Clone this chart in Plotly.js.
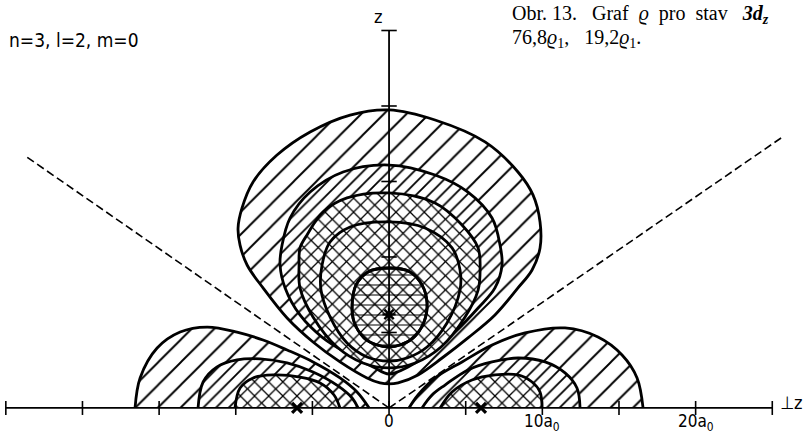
<!DOCTYPE html>
<html>
<head>
<meta charset="utf-8">
<script src="https://cdn.plot.ly/plotly-3.0.1.min.js"></script>
<style>
  html, body { margin: 0; padding: 0; background: #fff; }
  #chart { width: 806px; height: 435px; }
</style>
</head>
<body>
<div id="chart"></div>
<script>
// Density contours of the 3d_z2 state in the (x, z) half-plane, units of a0.

// Upper lobe (along z), outer to inner
const c1X = [0, 3.00, 6.26, 8.41, 9.39, 9.85, 9.85, 9.33, 8.41, 6.91, 5.15, 3.46, 1.89, 0.59, 0, -0.59, -1.44, -3.20, -4.96, -6.65, -8.22, -9.26, -9.72, -9.85, -9.59, -8.87, -7.31, -5.15, -2.54, 0];
const c1Z = [19.74, 19.07, 17.62, 15.63, 14.11, 12.32, 10.60, 9.14, 7.95, 6.16, 4.64, 3.31, 2.19, 1.66, 1.59, 1.66, 1.99, 3.05, 4.37, 5.96, 7.95, 9.47, 10.79, 11.92, 13.25, 14.97, 16.75, 18.28, 19.40, 19.74];

const c2X = [0, 3.00, 5.15, 6.72, 7.24, 7.37, 6.91, 5.81, 4.31, 2.80, 1.24, 0, -1.04, -2.54, -4.31, -5.81, -6.78, -7.11, -6.98, -6.46, -5.15, -3.00, 0];
const c2Z = [16.09, 15.43, 14.30, 12.58, 10.79, 9.47, 7.95, 6.62, 5.03, 3.71, 2.72, 2.25, 2.72, 3.51, 4.64, 6.16, 7.95, 9.47, 10.79, 12.58, 14.30, 15.63, 16.09];

const c3X = [0, 3.00, 4.76, 5.81, 5.94, 5.81, 4.96, 3.39, 1.70, 0, -1.70, -3.39, -4.96, -5.81, -5.87, -5.81, -5.35, -4.31, -2.74, 0];
const c3Z = [14.24, 13.58, 12.12, 10.60, 9.14, 7.81, 6.03, 4.04, 2.98, 2.65, 2.98, 4.04, 6.03, 7.95, 9.47, 10.60, 11.46, 12.98, 13.91, 14.24];

const c4X = [0, 2.35, 4.11, 4.63, 4.63, 3.78, 2.48, 1.17, 0, -1.44, -2.74, -3.85, -4.44, -4.37, -3.85, -2.54, 0];
const c4Z = [12.32, 11.92, 10.60, 9.14, 7.81, 5.63, 4.04, 3.31, 3.11, 3.38, 4.30, 6.03, 7.81, 9.47, 10.99, 11.99, 12.32];

const c5X = [0, 1.37, 2.15, 2.48, 2.28, 1.57, 0.72, 0, -0.78, -1.63, -2.28, -2.41, -2.15, -1.37, 0];
const c5Z = [9.27, 9.01, 8.15, 6.95, 5.70, 4.64, 4.17, 4.04, 4.17, 4.64, 5.70, 6.82, 8.15, 9.01, 9.27];

// Equatorial ring cross-sections, right and left, outer to inner
const e1RX = [1.30, 1.89, 3.00, 4.76, 6.72, 8.87, 11.48, 13.63, 15.20, 16.18, 16.57];
const e1RZ = [0, 0.86, 1.99, 3.05, 4.17, 4.97, 5.30, 4.70, 3.51, 1.99, 0];
const e1LX = [-16.57, -16.24, -15.13, -13.63, -11.87, -9.92, -8.22, -6.65, -4.96, -3.20, -2.09, -1.30];
const e1LZ = [0, 1.99, 3.97, 5.03, 5.36, 5.03, 4.50, 3.84, 3.05, 1.99, 1.06, 0];

const e2RX = [2.15, 2.80, 3.65, 5.15, 6.72, 8.41, 10.18, 11.48, 12.26, 12.46];
const e2RZ = [0, 0.86, 1.52, 2.52, 3.05, 3.31, 3.05, 2.32, 1.32, 0];
const e2LX = [-12.46, -12.13, -11.22, -9.92, -8.41, -6.65, -4.96, -3.33, -2.41, -2.02];
const e2LZ = [0, 1.72, 2.72, 3.18, 3.25, 2.98, 2.38, 1.46, 0.66, 0];

const e3RX = [3.33, 4.11, 5.41, 6.91, 8.41, 9.33, 9.85, 9.98];
const e3RZ = [0, 1.06, 1.85, 2.19, 2.19, 1.72, 1.06, 0];
const e3LX = [-10.05, -9.72, -8.87, -7.57, -5.81, -4.50, -3.59, -3.20];
const e3LZ = [0, 1.32, 1.99, 2.19, 2.05, 1.66, 0.86, 0];

// Nodal cones (dashed)
const coneLX = [-23.6, 0];
const coneLZ = [16.6, 0];
const coneRX = [0, 25.6];
const coneRZ = [0, 17.9];

// Axes and ticks
const axisX = [-25, 25];
const tickX = [-25, -20, -15, -10, -5, 0, 5, 10, 15, 20, 25];
const axisZ = [0, 25];
const tickZ = [5, 10, 15, 20, 25];
const tickLabelX = [0, 10, 20];
const tickLabelText = ['0', '10a<sub>0</sub>', '20a<sub>0</sub>'];

// Maxima of the density
const maxRingX = [-6.0, 6.0];
const maxRingZ = [0, 0];
const maxAxisX = [0];
const maxAxisZ = [6.2];

const INK = '#000';

function region(xs, zs, shape, size, solidity) {
  return {
    type: 'scatter', mode: 'lines', x: xs, y: zs,
    fill: 'toself',
    line: { color: INK, width: 2.8, shape: 'spline', smoothing: 1 },
    fillcolor: '#fff',
    fillpattern: { shape: shape, size: size, solidity: solidity, fgcolor: INK, bgcolor: '#fff', fillmode: 'replace' },
    hoverinfo: 'skip'
  };
}

const SPARSE = ['/', 16, 0.12];
const DENSE = ['/', 9, 0.2];
const CROSS = ['x', 10, 0.24];

const traces = [
  region(c1X, c1Z, ...SPARSE),
  region(c2X, c2Z, ...DENSE),
  region(c3X, c3Z, ...CROSS),
  region(c4X, c4Z, ...CROSS),
  region(c5X, c5Z, ...CROSS),
  {
    type: 'scatter', mode: 'lines', x: c5X, y: c5Z, fill: 'toself',
    line: { color: INK, width: 2.8, shape: 'spline', smoothing: 1 },
    fillcolor: 'rgba(0,0,0,0)',
    fillpattern: { shape: '-', size: 10, solidity: 0.2, fgcolor: INK, fillmode: 'overlay' },
    hoverinfo: 'skip'
  },
  region(e1RX, e1RZ, ...SPARSE),
  region(e1LX, e1LZ, ...SPARSE),
  region(e2RX, e2RZ, ...DENSE),
  region(e2LX, e2LZ, ...DENSE),
  region(e3RX, e3RZ, ...CROSS),
  region(e3LX, e3LZ, ...CROSS),
  { type: 'scatter', mode: 'lines', x: coneLX, y: coneLZ, line: { color: INK, width: 1.6, dash: '8px,4px' }, hoverinfo: 'skip' },
  { type: 'scatter', mode: 'lines', x: coneRX, y: coneRZ, line: { color: INK, width: 1.6, dash: '8px,4px' }, hoverinfo: 'skip' },
  { type: 'scatter', mode: 'lines', x: axisX, y: [0, 0], line: { color: INK, width: 1.8 }, hoverinfo: 'skip' },
  { type: 'scatter', mode: 'lines', x: [0, 0], y: axisZ, line: { color: INK, width: 1.8 }, hoverinfo: 'skip' },
  { type: 'scatter', mode: 'markers', x: tickX, y: tickX.map(() => 0),
    marker: { symbol: 'line-ns', size: 10, line: { color: INK, width: 1.6 } }, hoverinfo: 'skip' },
  { type: 'scatter', mode: 'markers', x: tickZ.map(() => 0), y: tickZ,
    marker: { symbol: 'line-ew', size: 11, line: { color: INK, width: 1.6 } }, hoverinfo: 'skip' },
  { type: 'scatter', mode: 'markers', x: maxRingX, y: maxRingZ,
    marker: { symbol: 'x-thin', size: 10, line: { color: INK, width: 3.2 } }, hoverinfo: 'skip' },
  { type: 'scatter', mode: 'markers', x: maxAxisX, y: maxAxisZ,
    marker: { symbol: 'asterisk', size: 11, line: { color: INK, width: 2.4 } }, hoverinfo: 'skip' }
];

const labelFont = { family: 'DejaVu Sans Condensed, DejaVu Sans', size: 17, color: INK };
const captionFont = { family: 'Liberation Serif, Times New Roman, serif', size: 20, color: INK };

const annotations = tickLabelX.map((v, i) => ({
  x: v, y: 0, xref: 'x', yref: 'y', text: tickLabelText[i], showarrow: false,
  xanchor: 'center', yanchor: 'top', yshift: -1, font: labelFont
}));
annotations.push(
  { x: 0, y: 25, xref: 'x', yref: 'y', text: 'z', showarrow: false, xanchor: 'right', yanchor: 'bottom', xshift: -4, yshift: 2, font: { family: 'DejaVu Sans Condensed, DejaVu Sans', size: 18, color: INK } },
  { x: 25, y: 0, xref: 'x', yref: 'y', text: '⊥z', showarrow: false, xanchor: 'left', yanchor: 'middle', xshift: 6, yshift: 5, font: { family: 'DejaVu Sans Condensed, DejaVu Sans', size: 18, color: INK } },
  { x: 7 / 806, y: 1 - 40 / 435, xref: 'paper', yref: 'paper', text: 'n=3, l=2, m=0', showarrow: false,
    xanchor: 'left', yanchor: 'middle', font: { family: 'DejaVu Sans Condensed, DejaVu Sans', size: 19, color: INK } },
  { x: 510 / 806, y: 1 - 14 / 435, xref: 'paper', yref: 'paper',
    text: 'Obr. 13.&nbsp;&nbsp;&nbsp;Graf&nbsp;&nbsp;<i>ϱ</i>&nbsp;&nbsp;pro&nbsp;&nbsp;stav&nbsp;&nbsp;&nbsp;<b><i>3d<sub>z</sub></i></b>', showarrow: false,
    xanchor: 'left', yanchor: 'middle', font: captionFont },
  { x: 510 / 806, y: 1 - 38 / 435, xref: 'paper', yref: 'paper',
    text: '76,8<i>ϱ</i><sub>1</sub>,&nbsp;&nbsp;&nbsp;19,2<i>ϱ</i><sub>1</sub>.', showarrow: false,
    xanchor: 'left', yanchor: 'middle', font: captionFont }
);

const layout = {
  width: 806, height: 435,
  margin: { l: 0, r: 0, t: 0, b: 0 },
  paper_bgcolor: '#fff', plot_bgcolor: '#fff',
  showlegend: false,
  xaxis: { visible: false, range: [-25.38, 27.20], fixedrange: true },
  yaxis: { visible: false, range: [-1.79, 27.02], fixedrange: true },
  annotations: annotations
};

Plotly.newPlot('chart', traces, layout, { staticPlot: true, displayModeBar: false });
</script>
</body>
</html>
